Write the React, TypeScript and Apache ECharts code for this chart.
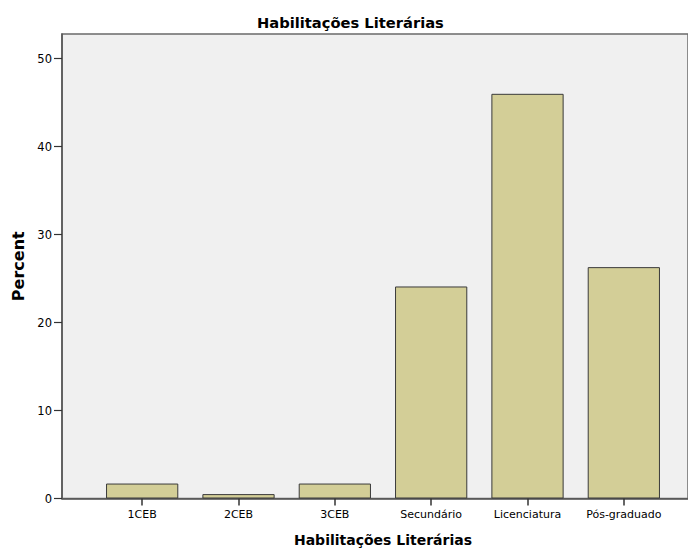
import React, { useEffect, useRef } from "react";
import * as echarts from "echarts";

const categories = ["1CEB", "2CEB", "3CEB", "Secundário", "Licenciatura", "Pós-graduado"];
const percentValues = [1.7, 0.5, 1.7, 24.1, 46.0, 26.3];
const yTickInterval = 10;
const yMax = 52.8;

const FONT = "'DejaVu Sans', Verdana, sans-serif";

export default function App() {
  const ref = useRef<HTMLDivElement>(null);
  useEffect(() => {
    document.body.style.margin = "0";
    const chart = echarts.init(ref.current!, null, { renderer: "svg" });
    chart.setOption({
      animation: false,
      backgroundColor: "#ffffff",
      textStyle: { fontFamily: FONT },
      title: {
        text: "Habilitações Literárias",
        left: 252,
        top: 10,
        textStyle: { fontFamily: FONT, fontSize: 14.7, fontWeight: "bold", color: "#000" },
      },
      grid: [
        {
          left: 62, top: 34, right: -3, bottom: 57.5,
          show: true, backgroundColor: "#f0f0f0", borderColor: "#6a6a6a", borderWidth: 1.5,
        },
        { left: 94, top: 34, width: 578, bottom: 57.5 },
      ],
      xAxis: [
        {
          gridIndex: 0, type: "value", min: 0, max: 1,
          axisLine: { show: true, lineStyle: { color: "#555", width: 1.5 } },
          axisTick: { show: false }, axisLabel: { show: false }, splitLine: { show: false },
        },
        {
          gridIndex: 1, type: "category", data: categories,
          axisLine: { show: false },
          axisTick: { show: true, interval: 0, alignWithLabel: true, length: 7, inside: false, lineStyle: { color: "#333", width: 1.5 } },
          axisLabel: { interval: 0, color: "#000", fontSize: 11, margin: 10, fontFamily: FONT },
          name: "Habilitações Literárias",
          nameLocation: "middle",
          nameGap: 34,
          nameTextStyle: { fontFamily: FONT, fontSize: 14, fontWeight: "bold", color: "#000" },
        },
      ],
      yAxis: [
        {
          gridIndex: 0, type: "value", min: 0, max: yMax, interval: yTickInterval,
          axisLine: { show: true, lineStyle: { color: "#555", width: 1.5 } },
          axisTick: { show: true, length: 8, lineStyle: { color: "#333", width: 1.2 } },
          axisLabel: { color: "#000", fontSize: 11.5, margin: 10, fontFamily: FONT, showMaxLabel: false },
          splitLine: { show: false },
          name: "Percent",
          nameLocation: "middle",
          nameGap: 34,
          nameTextStyle: { fontFamily: FONT, fontSize: 16, fontWeight: "bold", color: "#000" },
        },
        {
          gridIndex: 1, type: "value", min: 0, max: yMax, show: false,
        },
      ],
      series: [
        {
          type: "bar",
          xAxisIndex: 1,
          yAxisIndex: 1,
          data: percentValues,
          barWidth: "75%",
          itemStyle: { color: "#d3ce97", borderColor: "#3a3a3a", borderWidth: 1 },
        },
      ],
    });
    return () => chart.dispose();
  }, []);
  return <div ref={ref} style={{ width: 688, height: 556 }} />;
}
